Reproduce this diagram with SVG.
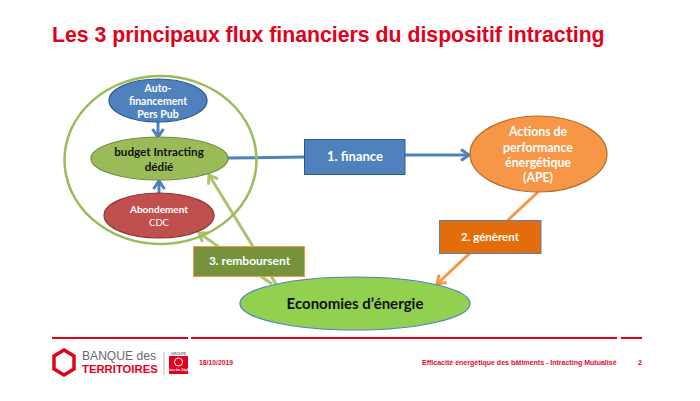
<svg xmlns="http://www.w3.org/2000/svg" width="700" height="401" viewBox="0 0 700 401">
<defs>
<style>
text{font-family:"Lato","Carlito","Liberation Sans",sans-serif;font-weight:700;text-anchor:middle}
.w{fill:#fff;font-size:10.5px}
.w2{fill:#fff;font-size:12.3px}
.k{fill:#111;font-size:11.7px}
.f{font-family:"Liberation Sans",Arial,sans-serif;fill:#e30a2c}
.rule{stroke:#e2001a;stroke-width:2;fill:none}
.c{fill:none;stroke-width:3;stroke-linecap:butt}
.g{stroke:#a9c46c}.b{stroke:#4f81bd}.o{stroke:#f79646}
</style>
<marker id="ag" markerUnits="userSpaceOnUse" markerWidth="14" markerHeight="14" refX="11" refY="7" orient="auto"><path d="M3 1.5L11 7L3 12.500" fill="none" stroke="#a9c46c" stroke-width="3"/></marker>
<marker id="ab" markerUnits="userSpaceOnUse" markerWidth="14" markerHeight="14" refX="11" refY="7" orient="auto"><path d="M3 1.5L11 7L3 12.500" fill="none" stroke="#4f81bd" stroke-width="3"/></marker>
<marker id="ao" markerUnits="userSpaceOnUse" markerWidth="14" markerHeight="14" refX="11" refY="7" orient="auto"><path d="M3 1.5L11 7L3 12.500" fill="none" stroke="#f79646" stroke-width="3"/></marker>
</defs>
<rect width="700" height="401" fill="#fff"/>
<text id="title" x="52" y="42" style="font-family:'Liberation Sans',Arial,sans-serif;text-anchor:start;font-size:21.25px;fill:#e2001a">Les 3 principaux flux financiers du dispositif intracting</text>
<g id="connectors">
<path class="c b" d="M158 122V137" marker-end="url(#ab)"/>
<path class="c b" d="M159 193V181" marker-end="url(#ab)"/>
<path class="c b" d="M228 158L304 157M405 155H469" marker-end="url(#ab)"/>
<path class="c o" d="M538 192L507 221"/>
<path class="c o" d="M470 253L437 284" marker-end="url(#ao)"/>
<path class="c g" d="M276 284L209 175" marker-end="url(#ag)"/>
<path class="c g" d="M272 284L199 233" marker-end="url(#ag)"/>
</g>
<g id="group-outline"><ellipse cx="160.500" cy="160" rx="96" ry="84" fill="none" stroke="#9bbb59" stroke-width="2.500"/></g>
<g id="node-auto"><ellipse cx="158" cy="100.500" rx="49" ry="21.500" fill="#4f81bd" stroke="#2c5a8f" stroke-width="1.200"/><text class="w" x="158" y="92">Auto-</text><text class="w" x="158" y="105">financement</text><text class="w" x="158" y="118">Pers Pub</text></g>
<g id="node-budget"><ellipse cx="159.500" cy="158.500" rx="68.500" ry="21.500" fill="#9bbb59" stroke="#6f8a3a" stroke-width="1.200"/><text class="k" x="159" y="155.500">budget Intracting</text><text class="k" x="159" y="170.500">dédié</text></g>
<g id="node-abondement"><ellipse cx="159" cy="215.500" rx="55" ry="22.500" fill="#c0504d" stroke="#8c3533" stroke-width="1.200"/><text class="w" x="159" y="213" style="font-size:10px">Abondement</text><text class="w" x="159" y="226" style="font-weight:400;font-size:9.500px">CDC</text></g>
<g id="node-ape"><ellipse cx="538.500" cy="154" rx="68.500" ry="38" fill="#f79646" stroke="#b56a28" stroke-width="1.200"/><text class="w2" x="538" y="136">Actions de</text><text class="w2" x="538" y="152">performance</text><text class="w2" x="538" y="167">énergétique</text><text class="w2" x="538" y="182">(APE)</text></g>
<g id="node-economies"><ellipse cx="355" cy="303.500" rx="115" ry="26.500" fill="#92d050" stroke="#4f81bd" stroke-width="1.200"/><text x="355" y="309" style="font-size:15px;fill:#111">Economies d’énergie</text></g>
<g id="label-finance"><rect x="304.500" y="139.500" width="100.500" height="35" fill="#4f81bd" stroke="#2c5a8f"/><text class="w2" x="355" y="161" style="font-size:13px">1. finance</text></g>
<g id="label-generent"><rect x="439.500" y="220.500" width="101.500" height="33" fill="#e46c0a" stroke="#4f81bd"/><text class="w2" x="490" y="241" style="font-size:11.500px">2. génèrent</text></g>
<g id="label-remboursent"><rect x="193.500" y="246.500" width="111" height="30" fill="#76923c" stroke="#f79646"/><text class="w2" x="249.500" y="265" style="font-size:12px">3. remboursent</text></g>
<g id="footer">
<path class="rule" d="M52 338H188M191 338H617M621 338H642"/>
<path d="M64 350L74 356V369L64 375L54 369V356Z" fill="none" stroke="#e2001a" stroke-width="3.500"/>
<text x="82" y="360" style="font-family:'Liberation Sans',sans-serif;font-weight:400;text-anchor:start;font-size:12.100px;fill:#6b6b6b">BANQUE des</text>
<text x="82" y="373" style="font-family:'Liberation Sans',sans-serif;text-anchor:start;font-size:11.300px;fill:#e2001a">TERRITOIRES</text>
<path d="M164 352V375" stroke="#bbb" stroke-width="1"/>
<text x="178.500" y="354.500" style="font-family:'Liberation Sans',sans-serif;font-size:3.500px;fill:#777">GROUPE</text>
<rect x="169" y="356" width="19" height="18" fill="#e2001a"/>
<circle cx="178.500" cy="362" r="4" fill="none" stroke="#fff" stroke-width="1"/>
<text x="178.500" y="371" style="font-family:'Liberation Sans',sans-serif;font-size:2.800px;fill:#fff">Caisse des Dépôts</text>
<text class="f" x="199" y="365" style="text-anchor:start;font-size:6.800px">18/10/2019</text>
<text class="f" x="422" y="365" style="text-anchor:start;font-size:7.030px">Efficacité énergétique des bâtiments - Intracting Mutualisé</text>
<text class="f" x="640" y="365" style="font-size:7.500px">2</text>
</g>
</svg>
